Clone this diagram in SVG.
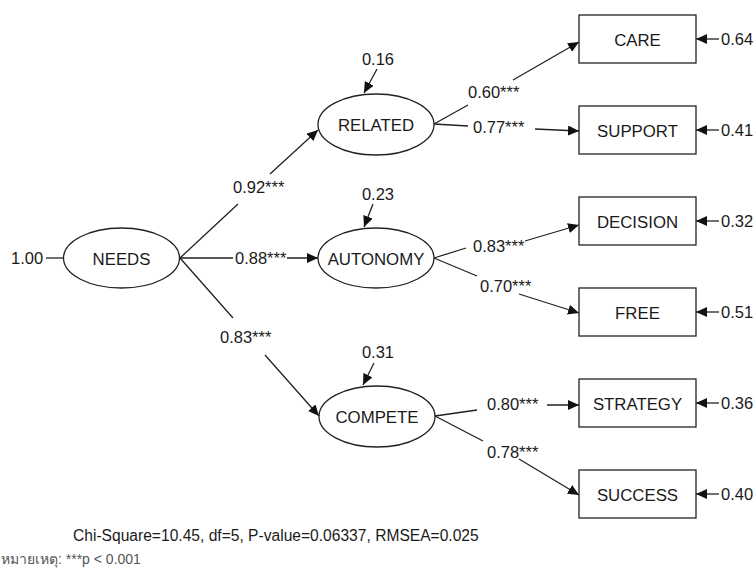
<svg xmlns="http://www.w3.org/2000/svg" width="755" height="571" viewBox="0 0 755 571">
<style>
text{font-family:"Liberation Sans",Arial,sans-serif;fill:#1a1a1a;font-size:16.5px}
.lbl{text-anchor:middle}
.n{text-anchor:middle;dominant-baseline:central;font-size:16.8px}
ellipse,rect{fill:#fff;stroke:#222;stroke-width:1.3}
.c path{fill:none;stroke:#222;stroke-width:1.3}
.arr{marker-end:url(#ah)}
.fit{font-size:15.6px}
.note{font-size:14px;fill:#555}
</style>
<defs>
<marker id="ah" markerUnits="userSpaceOnUse" markerWidth="12" markerHeight="10" refX="11" refY="5" orient="auto">
<path d="M0,0 L11,5 L0,10 z" fill="#111"/>
</marker>
</defs>
<g class="c" id="connectors">
<path d="M46,258 L63,258"/>
<path class="arr" d="M180,258 L238,204 M270,174 L318,130"/>
<path class="arr" d="M180,258 L233,258 M287,258 L318,258"/>
<path class="arr" d="M180,258 L233,318 M265,355 L319,416"/>
<path class="arr" d="M377,69 L364,93"/>
<path class="arr" d="M373,204 L364,227"/>
<path class="arr" d="M374,363 L363,385"/>
<path class="arr" d="M434,124 L468,105 M513,80 L579,42"/>
<path class="arr" d="M434,124 L468,126 M535,129 L579,131"/>
<path class="arr" d="M434,258 L466,248 M525,241 L579,225"/>
<path class="arr" d="M434,258 L477,276 M519,294 L579,313"/>
<path class="arr" d="M435,416 L477,410 M547,405 L579,405"/>
<path class="arr" d="M435,416 L483,441 M519,459 L579,495"/>
<path class="arr" d="M719,39 L696,39"/>
<path class="arr" d="M719,130 L696,130"/>
<path class="arr" d="M719,221 L696,221"/>
<path class="arr" d="M719,312 L696,312"/>
<path class="arr" d="M719,403 L696,403"/>
<path class="arr" d="M719,494 L696,494"/>
</g>
<g id="needs"><ellipse cx="121.5" cy="258" rx="58" ry="30"/><text class="n" x="121.5" y="259">NEEDS</text></g>
<g id="related"><ellipse cx="376" cy="124.5" rx="58" ry="30.5"/><text class="n" x="376" y="125.5">RELATED</text></g>
<g id="autonomy"><ellipse cx="376" cy="258" rx="58" ry="30"/><text class="n" x="376" y="259">AUTONOMY</text></g>
<g id="compete"><ellipse cx="377" cy="416.5" rx="58" ry="30.5"/><text class="n" x="377" y="417.5">COMPETE</text></g>
<g id="care"><rect x="579" y="15" width="117" height="48"/><text class="n" x="637.5" y="40">CARE</text></g>
<g id="support"><rect x="579" y="106" width="117" height="48"/><text class="n" x="637.5" y="131">SUPPORT</text></g>
<g id="decision"><rect x="579" y="197" width="117" height="48"/><text class="n" x="637.5" y="222">DECISION</text></g>
<g id="free"><rect x="579" y="288" width="117" height="48"/><text class="n" x="637.5" y="313">FREE</text></g>
<g id="strategy"><rect x="579" y="379" width="117" height="48"/><text class="n" x="637.5" y="404">STRATEGY</text></g>
<g id="success"><rect x="579" y="470" width="117" height="48"/><text class="n" x="637.5" y="495">SUCCESS</text></g>
<g id="labels">
<text x="11" y="264">1.00</text>
<text class="lbl" x="378" y="65">0.16</text>
<text class="lbl" x="378" y="200">0.23</text>
<text class="lbl" x="378" y="358">0.31</text>
<text x="233" y="193">0.92***</text>
<text x="235" y="264">0.88***</text>
<text x="220" y="343">0.83***</text>
<text x="468" y="98">0.60***</text>
<text x="473" y="133">0.77***</text>
<text x="473" y="252">0.83***</text>
<text x="480" y="292">0.70***</text>
<text x="487" y="410">0.80***</text>
<text x="487" y="458">0.78***</text>
<text x="721" y="45">0.64</text>
<text x="721" y="136">0.41</text>
<text x="721" y="227">0.32</text>
<text x="721" y="318">0.51</text>
<text x="721" y="409">0.36</text>
<text x="721" y="500">0.40</text>
<text class="fit" x="73" y="541">Chi-Square=10.45, df=5, P-value=0.06337, RMSEA=0.025</text>
<text class="note" x="1" y="564">หมายเหตุ: ***p &lt; 0.001</text>
</g>
</svg>
